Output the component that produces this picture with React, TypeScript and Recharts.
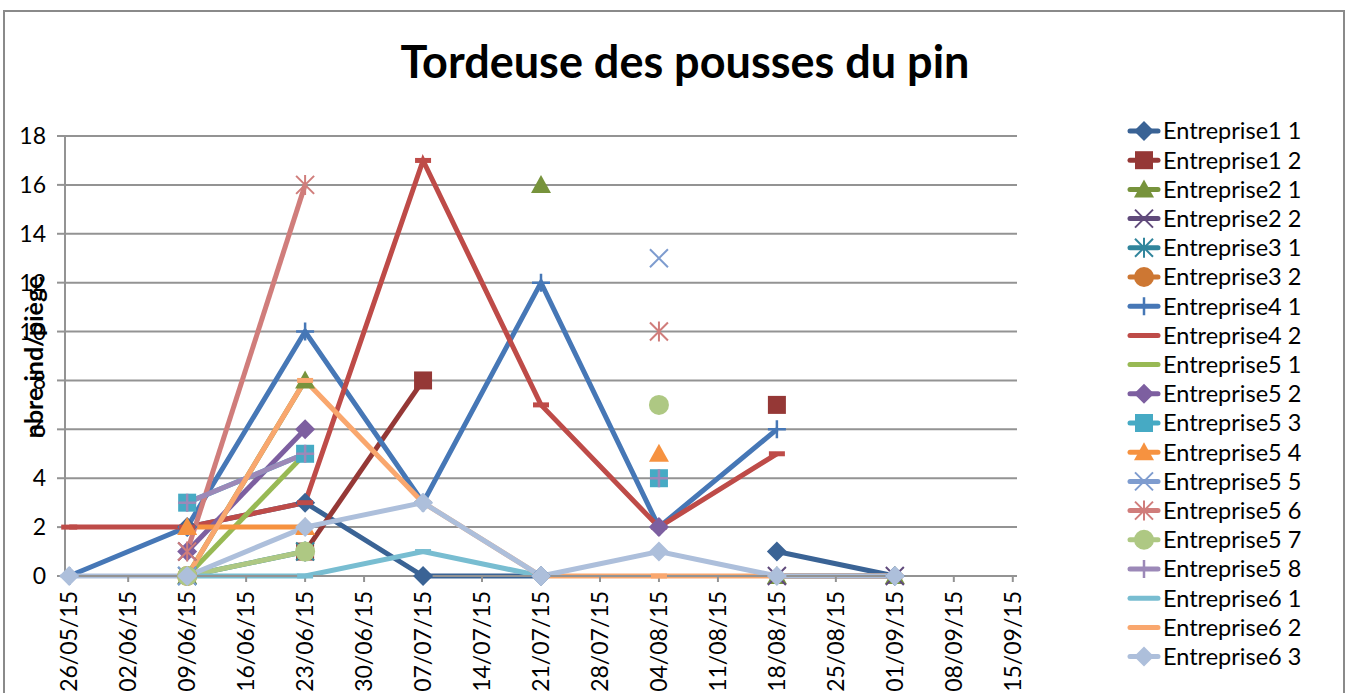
import React from "react";
import { LineChart, Line, XAxis, YAxis, CartesianGrid } from "recharts";

// sampling dates (dd/mm/yy) and weekly axis ticks
const DATES = ["26/05/15", "09/06/15", "23/06/15", "07/07/15", "21/07/15", "04/08/15", "18/08/15", "01/09/15"];
const TICK_LABELS = [
  "26/05/15", "02/06/15", "09/06/15", "16/06/15", "23/06/15", "30/06/15", "07/07/15", "14/07/15", "21/07/15",
  "28/07/15", "04/08/15", "11/08/15", "18/08/15", "25/08/15", "01/09/15", "08/09/15", "15/09/15",
];
const Y_TICKS = [0, 2, 4, 6, 8, 10, 12, 14, 16, 18];

const E1_1 = [null, 2, 3, 0, 0, null, 1, 0];
const E1_2 = [null, null, 1, 8, null, null, 7, null];
const E2_1 = [null, 0, 8, null, 16, null, 0, 0];
const E2_2 = [null, 1, null, null, null, null, 0, 0];
const E3_1 = [null, 0, 1, null, null, null, null, null];
const E3_2 = [null, 0, null, null, null, null, null, null];
const E4_1 = [0, 2, 10, 3, 12, 2, 6, null];
const E4_2 = [2, 2, 3, 17, 7, 2, 5, null];
const E5_1 = [null, 0, 5, null, null, null, null, null];
const E5_2 = [null, 1, 6, null, null, 2, null, null];
const E5_3 = [null, 3, 5, null, null, 4, null, null];
const E5_4 = [null, 2, 2, null, null, 5, null, null];
const E5_5 = [null, 0, null, null, null, 13, null, null];
const E5_6 = [null, 1, 16, null, null, 10, null, null];
const E5_7 = [null, 0, 1, null, null, 7, null, null];
const E5_8 = [null, 3, 5, null, null, 4, null, null];
const E6_1 = [null, 0, 0, 1, 0, null, null, null];
const E6_2 = [null, 0, 8, 3, 0, 0, 0, 0];
const E6_3 = [0, 0, 2, 3, 0, 1, 0, 0];

const SERIES = [
  { key: "e1_1", name: "Entreprise1 1", color: "#3A6395", marker: "diamond", values: E1_1 },
  { key: "e1_2", name: "Entreprise1 2", color: "#953836", marker: "square", values: E1_2 },
  { key: "e2_1", name: "Entreprise2 1", color: "#77933C", marker: "triangle", values: E2_1 },
  { key: "e2_2", name: "Entreprise2 2", color: "#604A7B", marker: "x", values: E2_2 },
  { key: "e3_1", name: "Entreprise3 1", color: "#31859C", marker: "star", values: E3_1 },
  { key: "e3_2", name: "Entreprise3 2", color: "#CD7733", marker: "circle", values: E3_2 },
  { key: "e4_1", name: "Entreprise4 1", color: "#4677B6", marker: "plus", values: E4_1 },
  { key: "e4_2", name: "Entreprise4 2", color: "#BE4B48", marker: "dash", values: E4_2 },
  { key: "e5_1", name: "Entreprise5 1", color: "#98B954", marker: "dash", values: E5_1 },
  { key: "e5_2", name: "Entreprise5 2", color: "#7D5FA0", marker: "diamond", values: E5_2 },
  { key: "e5_3", name: "Entreprise5 3", color: "#46AAC4", marker: "square", values: E5_3 },
  { key: "e5_4", name: "Entreprise5 4", color: "#F69240", marker: "triangle", values: E5_4 },
  { key: "e5_5", name: "Entreprise5 5", color: "#7E9CCF", marker: "x", values: E5_5 },
  { key: "e5_6", name: "Entreprise5 6", color: "#D07D7B", marker: "star", values: E5_6 },
  { key: "e5_7", name: "Entreprise5 7", color: "#AEC883", marker: "circle", values: E5_7 },
  { key: "e5_8", name: "Entreprise5 8", color: "#9C89B8", marker: "plus", values: E5_8 },
  { key: "e6_1", name: "Entreprise6 1", color: "#78BDD1", marker: "dash", values: E6_1 },
  { key: "e6_2", name: "Entreprise6 2", color: "#F9A76E", marker: "dash", values: E6_2 },
  { key: "e6_3", name: "Entreprise6 3", color: "#ADBFDB", marker: "diamond", values: E6_3 },
];

const FONT = "Lato, 'Liberation Sans', sans-serif";

function dayOf(label: string) {
  const [d, m, y] = label.split("/").map(Number);
  return Date.UTC(2000 + y, m - 1, d) / 86400000;
}
const BASE = dayOf(DATES[0]);
const toDay = (label: string) => dayOf(label) - BASE;

const rows = DATES.map((d, i) => {
  const row: any = { day: toDay(d) };
  SERIES.forEach((s) => (row[s.key] = s.values[i]));
  return row;
});
const tickDays = TICK_LABELS.map(toDay);

function Marker({ type, cx, cy, color }: any) {
  switch (type) {
    case "diamond":
      return <polygon points={`${cx},${cy - 10} ${cx + 10},${cy} ${cx},${cy + 10} ${cx - 10},${cy}`} fill={color} />;
    case "square":
      return <rect x={cx - 9} y={cy - 9} width={18} height={18} fill={color} />;
    case "triangle":
      return <polygon points={`${cx},${cy - 10} ${cx + 10},${cy + 8} ${cx - 10},${cy + 8}`} fill={color} />;
    case "x":
      return (
        <path d={`M${cx - 9},${cy - 9}L${cx + 9},${cy + 9}M${cx - 9},${cy + 9}L${cx + 9},${cy - 9}`} stroke={color} strokeWidth={2} />
      );
    case "star":
      return (
        <path
          d={`M${cx - 9},${cy - 9}L${cx + 9},${cy + 9}M${cx - 9},${cy + 9}L${cx + 9},${cy - 9}M${cx},${cy - 10}L${cx},${cy + 10}`}
          stroke={color}
          strokeWidth={2}
        />
      );
    case "circle":
      return <circle cx={cx} cy={cy} r={10} fill={color} />;
    case "plus":
      return <path d={`M${cx - 9},${cy}L${cx + 9},${cy}M${cx},${cy - 9}L${cx},${cy + 9}`} stroke={color} strokeWidth={2.5} />;
    case "dash":
      return <rect x={cx - 8} y={cy - 2.5} width={16} height={5} fill={color} />;
    default:
      return null;
  }
}

const dotFor = (type: string, color: string) => (props: any) => {
  const { cx, cy, index } = props;
  if (cy == null || Number.isNaN(cy)) return <g key={index} />;
  return (
    <g key={index}>
      <Marker type={type} cx={cx} cy={cy} color={color} />
    </g>
  );
};

function DateTick({ x, y, payload }: any) {
  const label = TICK_LABELS[tickDays.indexOf(payload.value)];
  return (
    <g transform={`translate(${x},${y})`}>
      <text transform="rotate(-90)" textAnchor="end" dy="0.36em" fontSize={23} fill="#000" fontFamily={FONT}>
        {label}
      </text>
    </g>
  );
}

function LegendBox() {
  const rowH = 29.2;
  return (
    <svg width={224} height={580} style={{ position: "absolute", left: 1126, top: 116 }}>
      {SERIES.map((s, i) => {
        const cy = 15 + i * rowH;
        return (
          <g key={s.key}>
            <line x1={4} x2={32} y1={cy} y2={cy} stroke={s.color} strokeWidth={5} strokeLinecap="round" />
            {s.marker !== "dash" && <Marker type={s.marker} cx={18} cy={cy} color={s.color} />}
            <text x={37} y={cy} dy="0.36em" fontSize={23.5} fill="#000" fontFamily={FONT}>
              {s.name}
            </text>
          </g>
        );
      })}
    </svg>
  );
}

export default function App() {
  return (
    <div style={{ position: "absolute", left: 0, top: 0, width: 1350, height: 693, overflow: "hidden", background: "#fff" }}>
      <div
        style={{
          position: "absolute",
          left: 3,
          top: 10,
          width: 1338,
          height: 720,
          border: "2px solid #8a8a8a",
        }}
      />
      <div
        style={{
          position: "absolute",
          left: 0,
          top: 35,
          width: 1370,
          textAlign: "center",
          fontFamily: FONT,
          fontWeight: 700,
          fontSize: 45,
          lineHeight: "52px",
          color: "#000",
        }}
      >
        Tordeuse des pousses du pin
      </div>
      <div style={{ position: "absolute", left: 0, top: 0 }}>
        <LineChart width={1350} height={693} data={rows} margin={{ top: 136, right: 333, bottom: 0, left: 0 }}>
          <CartesianGrid horizontal vertical={false} stroke="#939393" strokeWidth={2} />
          <XAxis
            dataKey="day"
            type="number"
            domain={[-0.5, 112.5]}
            ticks={tickDays}
            interval={0}
            height={117}
            tick={<DateTick />}
            tickSize={6}
            tickMargin={9}
            axisLine={{ stroke: "#939393", strokeWidth: 2 }}
            tickLine={{ stroke: "#939393", strokeWidth: 2 }}
          />
          <YAxis
            domain={[0, 18]}
            ticks={Y_TICKS}
            interval={0}
            width={65}
            tickSize={8}
            tickMargin={11}
            tick={{ fontSize: 23, fill: "#000", fontFamily: FONT }}
            axisLine={{ stroke: "#939393", strokeWidth: 2 }}
            tickLine={{ stroke: "#939393", strokeWidth: 2 }}
          />
          {SERIES.map((s) => (
            <Line
              key={s.key}
              dataKey={s.key}
              name={s.name}
              type="linear"
              stroke={s.color}
              strokeWidth={5}
              dot={dotFor(s.marker, s.color)}
              activeDot={false}
              isAnimationActive={false}
              connectNulls={false}
            />
          ))}
        </LineChart>
      </div>
      <svg width={70} height={693} style={{ position: "absolute", left: 0, top: 0 }}>
        <text
          transform="translate(34,357) rotate(-90)"
          textAnchor="middle"
          dy="0.36em"
          fontSize={25}
          fontWeight={700}
          fill="#000"
          fontFamily={FONT}
        >
          nbre ind/piège
        </text>
      </svg>
      <LegendBox />
    </div>
  );
}
